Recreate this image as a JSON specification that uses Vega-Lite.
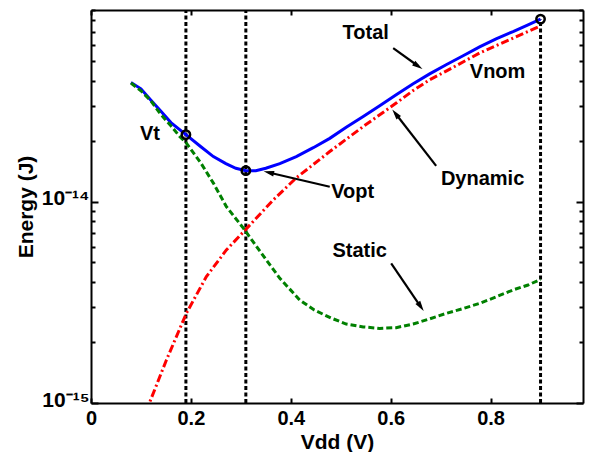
{
  "$schema": "https://vega.github.io/schema/vega-lite/v6.json",
  "width": 492,
  "height": 393,
  "autosize": {"type": "none"},
  "padding": {"left": 91, "top": 10, "right": 7, "bottom": 49},
  "background": "white",
  "config": {"view": {"stroke": null}, "font": "Liberation Sans"},
  "datasets": {
    "total": [
      {"V": 0.08, "E": 3.92e-14}, {"V": 0.10, "E": 3.65e-14}, {"V": 0.12, "E": 3.2e-14},
      {"V": 0.14, "E": 2.82e-14}, {"V": 0.16, "E": 2.48e-14}, {"V": 0.19, "E": 2.16e-14},
      {"V": 0.22, "E": 1.88e-14}, {"V": 0.245, "E": 1.68e-14}, {"V": 0.27, "E": 1.55e-14},
      {"V": 0.29, "E": 1.47e-14}, {"V": 0.31, "E": 1.43e-14}, {"V": 0.33, "E": 1.43e-14},
      {"V": 0.35, "E": 1.47e-14}, {"V": 0.378, "E": 1.55e-14}, {"V": 0.411, "E": 1.68e-14},
      {"V": 0.445, "E": 1.86e-14}, {"V": 0.478, "E": 2.07e-14}, {"V": 0.511, "E": 2.35e-14},
      {"V": 0.545, "E": 2.66e-14}, {"V": 0.578, "E": 3.01e-14}, {"V": 0.611, "E": 3.41e-14},
      {"V": 0.645, "E": 3.87e-14}, {"V": 0.678, "E": 4.33e-14}, {"V": 0.711, "E": 4.81e-14},
      {"V": 0.745, "E": 5.33e-14}, {"V": 0.778, "E": 5.9e-14}, {"V": 0.811, "E": 6.47e-14},
      {"V": 0.845, "E": 7.03e-14}, {"V": 0.875, "E": 7.6e-14}, {"V": 0.9, "E": 8.11e-14}
    ],
    "dynamic": [
      {"V": 0.10, "E": 7.6e-16}, {"V": 0.118, "E": 1.015e-15}, {"V": 0.151, "E": 1.636e-15},
      {"V": 0.191, "E": 2.795e-15}, {"V": 0.231, "E": 4.25e-15}, {"V": 0.271, "E": 5.77e-15},
      {"V": 0.309, "E": 7.26e-15}, {"V": 0.365, "E": 1.023e-14}, {"V": 0.411, "E": 1.317e-14},
      {"V": 0.478, "E": 1.78e-14}, {"V": 0.545, "E": 2.37e-14}, {"V": 0.611, "E": 3.1e-14},
      {"V": 0.645, "E": 3.58e-14}, {"V": 0.678, "E": 4.05e-14}, {"V": 0.711, "E": 4.47e-14},
      {"V": 0.778, "E": 5.5e-14}, {"V": 0.845, "E": 6.52e-14}, {"V": 0.9, "E": 7.51e-14}
    ],
    "static": [
      {"V": 0.08, "E": 3.9e-14}, {"V": 0.10, "E": 3.57e-14}, {"V": 0.12, "E": 3.18e-14},
      {"V": 0.138, "E": 2.76e-14}, {"V": 0.16, "E": 2.39e-14}, {"V": 0.178, "E": 2.11e-14},
      {"V": 0.191, "E": 1.96e-14}, {"V": 0.22, "E": 1.56e-14}, {"V": 0.245, "E": 1.24e-14},
      {"V": 0.271, "E": 9.48e-15}, {"V": 0.305, "E": 7.4e-15}, {"V": 0.351, "E": 5.14e-15},
      {"V": 0.378, "E": 4.17e-15}, {"V": 0.418, "E": 3.25e-15}, {"V": 0.447, "E": 2.9e-15},
      {"V": 0.48, "E": 2.65e-15}, {"V": 0.511, "E": 2.47e-15}, {"V": 0.545, "E": 2.39e-15},
      {"V": 0.578, "E": 2.35e-15}, {"V": 0.611, "E": 2.37e-15}, {"V": 0.645, "E": 2.47e-15},
      {"V": 0.678, "E": 2.62e-15}, {"V": 0.711, "E": 2.79e-15}, {"V": 0.745, "E": 2.95e-15},
      {"V": 0.778, "E": 3.13e-15}, {"V": 0.811, "E": 3.37e-15}, {"V": 0.845, "E": 3.65e-15},
      {"V": 0.875, "E": 3.86e-15}, {"V": 0.9, "E": 4.12e-15}
    ],
    "markers": [
      {"name": "Vt", "V": 0.19, "E": 2.16e-14},
      {"name": "Vopt", "V": 0.31, "E": 1.43e-14},
      {"name": "Vnom", "V": 0.9, "E": 8.11e-14}
    ],
    "vlines": [
      {"name": "Vt", "V": 0.19, "E0": 1e-15, "E1": 9e-14},
      {"name": "Vopt", "V": 0.31, "E0": 1e-15, "E1": 9e-14},
      {"name": "Vnom", "V": 0.9, "E0": 1e-15, "E1": 8.11e-14}
    ],
    "arrows": [
      {"label": "Total", "V": 0.605, "E": 5.82e-14, "HV": 0.6548, "HE": 4.74e-14, "angle": 124},
      {"label": "Vopt", "V": 0.478, "E": 1.19e-14, "HV": 0.3558, "HE": 1.40e-14, "angle": 283},
      {"label": "Dynamic", "V": 0.691, "E": 1.51e-14, "HV": 0.6096, "HE": 2.75e-14, "angle": 322},
      {"label": "Static", "V": 0.601, "E": 4.95e-15, "HV": 0.6602, "HE": 3.01e-15, "angle": 146}
    ],
    "labels": [
      {"label": "Total", "V": 0.55, "E": 6.93e-14},
      {"label": "Vnom", "V": 0.814, "E": 4.43e-14},
      {"label": "Vt", "V": 0.118, "E": 2.18e-14},
      {"label": "Vopt", "V": 0.524, "E": 1.12e-14},
      {"label": "Dynamic", "V": 0.784, "E": 1.3e-14},
      {"label": "Static", "V": 0.538, "E": 5.7e-15}
    ]
  },
  "resolve": {"axis": {"x": "independent", "y": "independent"}},
  "layer": [
    {
      "data": {"name": "vlines"},
      "mark": {"type": "rule", "color": "black", "strokeWidth": 3, "strokeDash": [4, 2.5]},
      "encoding": {
        "x": {"field": "V", "type": "quantitative", "scale": {"domain": [0, 0.985], "nice": false, "zero": false}, "axis": null},
        "y": {"field": "E0", "type": "quantitative", "scale": {"type": "log", "domain": [1e-15, 9e-14], "nice": false}, "axis": null},
        "y2": {"field": "E1"}
      }
    },
    {
      "data": {"name": "total"},
      "mark": {"type": "line", "color": "#0000FF", "strokeWidth": 3},
      "encoding": {
        "x": {
          "field": "V", "type": "quantitative",
          "scale": {"domain": [0, 0.985], "nice": false, "zero": false},
          "axis": {
            "orient": "bottom", "title": "Vdd (V)", "values": [0, 0.2, 0.4, 0.6, 0.8],
            "labelExpr": "datum.value == 0 ? '0' : format(datum.value, '.1f')",
            "grid": false, "domainColor": "black", "domainWidth": 2,
            "tickColor": "black", "tickWidth": 2, "tickSize": -5,
            "labelPadding": 10, "labelFont": "Liberation Sans", "labelFontSize": 20,
            "labelFontWeight": "bold", "labelColor": "black", "labelFlush": false,
            "titleFont": "Liberation Sans", "titleFontSize": 21, "titleFontWeight": "bold",
            "titleColor": "black", "titlePadding": 3
          }
        },
        "y": {
          "field": "E", "type": "quantitative",
          "scale": {"type": "log", "domain": [1e-15, 9e-14], "nice": false},
          "axis": {
            "orient": "left", "title": "Energy (J)",
            "values": [1e-15, 2e-15, 3e-15, 4e-15, 5e-15, 6e-15, 7e-15, 8e-15, 9e-15, 1e-14, 2e-14, 3e-14, 4e-14, 5e-14, 6e-14, 7e-14, 8e-14, 9e-14],
            "labelExpr": "datum.value == 1e-14 ? '10⁻¹⁴' : (datum.value == 1e-15 ? '10⁻¹⁵' : '')",
            "grid": false, "domainColor": "black", "domainWidth": 2,
            "tickColor": "black", "tickWidth": 2,
            "tickSize": {"condition": {"test": "datum.value == 1e-14 || datum.value == 1e-15", "value": -7}, "value": -4},
            "labelPadding": 9, "labelOffset": -3, "labelFont": "Liberation Sans", "labelFontSize": 21,
            "labelFontWeight": "bold", "labelColor": "black", "labelFlush": false,
            "titleFont": "Liberation Sans", "titleFontSize": 21, "titleFontWeight": "bold",
            "titleColor": "black", "titlePadding": 5
          }
        }
      }
    },
    {
      "data": {"name": "dynamic"},
      "mark": {"type": "line", "color": "#FF0000", "strokeWidth": 3, "strokeDash": [8, 3, 2, 3], "clip": true},
      "encoding": {
        "x": {"field": "V", "type": "quantitative", "scale": {"domain": [0, 0.985], "nice": false, "zero": false}, "axis": null},
        "y": {"field": "E", "type": "quantitative", "scale": {"type": "log", "domain": [1e-15, 9e-14], "nice": false}, "axis": null}
      }
    },
    {
      "data": {"name": "static"},
      "mark": {"type": "line", "color": "#008000", "strokeWidth": 3, "strokeDash": [6, 3]},
      "encoding": {
        "x": {"field": "V", "type": "quantitative", "scale": {"domain": [0, 0.985], "nice": false, "zero": false}, "axis": null},
        "y": {"field": "E", "type": "quantitative", "scale": {"type": "log", "domain": [1e-15, 9e-14], "nice": false}, "axis": null}
      }
    },
    {
      "data": {"name": "markers"},
      "mark": {"type": "point", "shape": "circle", "filled": false, "stroke": "black", "strokeWidth": 2.5, "size": 70, "opacity": 1},
      "encoding": {
        "x": {
          "field": "V", "type": "quantitative",
          "scale": {"domain": [0, 0.985], "nice": false, "zero": false},
          "axis": {
            "orient": "top", "title": null, "labels": false, "values": [0, 0.2, 0.4, 0.6, 0.8],
            "grid": false, "domainColor": "black", "domainWidth": 2,
            "tickColor": "black", "tickWidth": 2, "tickSize": -5
          }
        },
        "y": {
          "field": "E", "type": "quantitative",
          "scale": {"type": "log", "domain": [1e-15, 9e-14], "nice": false},
          "axis": {
            "orient": "right", "title": null, "labels": false,
            "values": [1e-15, 2e-15, 3e-15, 4e-15, 5e-15, 6e-15, 7e-15, 8e-15, 9e-15, 1e-14, 2e-14, 3e-14, 4e-14, 5e-14, 6e-14, 7e-14, 8e-14, 9e-14],
            "grid": false, "domainColor": "black", "domainWidth": 2,
            "tickColor": "black", "tickWidth": 2,
            "tickSize": {"condition": {"test": "datum.value == 1e-14 || datum.value == 1e-15", "value": -7}, "value": -4}
          }
        }
      }
    },
    {
      "data": {"name": "arrows"},
      "mark": {"type": "rule", "color": "black", "strokeWidth": 2.2},
      "encoding": {
        "x": {"field": "V", "type": "quantitative", "scale": {"domain": [0, 0.985], "nice": false, "zero": false}, "axis": null},
        "y": {"field": "E", "type": "quantitative", "scale": {"type": "log", "domain": [1e-15, 9e-14], "nice": false}, "axis": null},
        "x2": {"field": "HV"},
        "y2": {"field": "HE"}
      }
    },
    {
      "data": {"name": "arrows"},
      "mark": {"type": "point", "shape": "M0,-1L0.55,1L-0.55,1Z", "filled": true, "color": "black", "size": 110, "opacity": 1},
      "encoding": {
        "x": {"field": "HV", "type": "quantitative", "scale": {"domain": [0, 0.985], "nice": false, "zero": false}, "axis": null},
        "y": {"field": "HE", "type": "quantitative", "scale": {"type": "log", "domain": [1e-15, 9e-14], "nice": false}, "axis": null},
        "angle": {"field": "angle", "type": "quantitative", "scale": null}
      }
    },
    {
      "data": {"name": "labels"},
      "mark": {"type": "text", "font": "Liberation Sans", "fontSize": 20, "fontWeight": "bold", "color": "black", "align": "center", "baseline": "middle"},
      "encoding": {
        "x": {"field": "V", "type": "quantitative", "scale": {"domain": [0, 0.985], "nice": false, "zero": false}, "axis": null},
        "y": {"field": "E", "type": "quantitative", "scale": {"type": "log", "domain": [1e-15, 9e-14], "nice": false}, "axis": null},
        "text": {"field": "label", "type": "nominal"}
      }
    }
  ]
}
